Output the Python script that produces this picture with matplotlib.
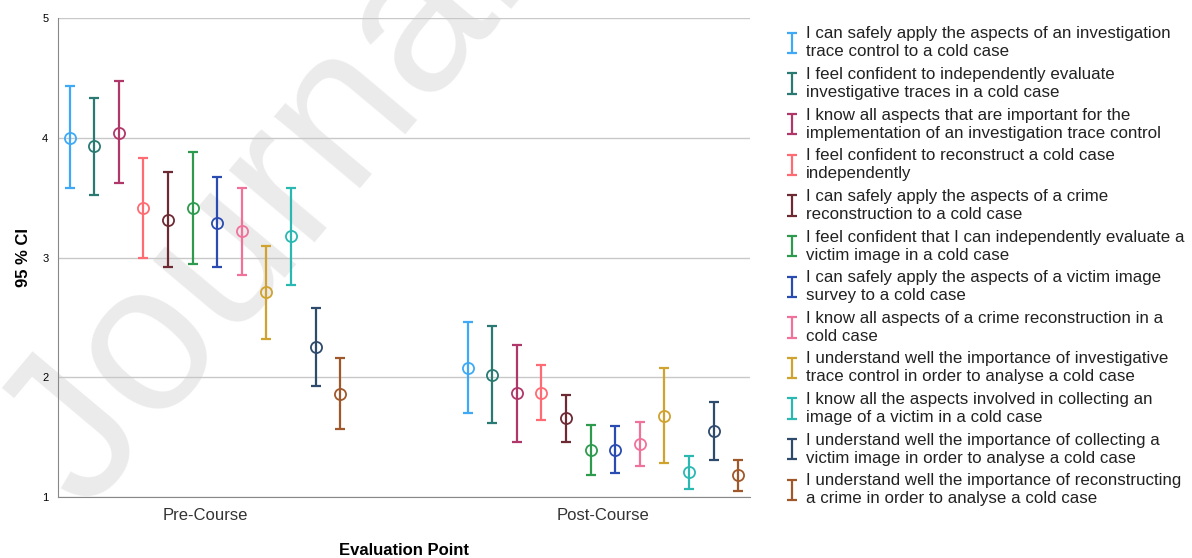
import numpy as np
import matplotlib.pyplot as plt
from matplotlib.legend_handler import HandlerErrorbar

plt.rcParams['font.family'] = ['Liberation Sans', 'DejaVu Sans']

points = ['Pre-Course', 'Post-Course']
items = [
    'I can safely apply the aspects of an investigation\ntrace control to a cold case',
    'I feel confident to independently evaluate\ninvestigative traces in a cold case',
    'I know all aspects that are important for the\nimplementation of an investigation trace control',
    'I feel confident to reconstruct a cold case\nindependently',
    'I can safely apply the aspects of a crime\nreconstruction to a cold case',
    'I feel confident that I can independently evaluate a\nvictim image in a cold case',
    'I can safely apply the aspects of a victim image\nsurvey to a cold case',
    'I know all aspects of a crime reconstruction in a\ncold case',
    'I understand well the importance of investigative\ntrace control in order to analyse a cold case',
    'I know all the aspects involved in collecting an\nimage of a victim in a cold case',
    'I understand well the importance of collecting a\nvictim image in order to analyse a cold case',
    'I understand well the importance of reconstructing\na crime in order to analyse a cold case',
]
colors = ['#3fa9f5', '#2a7a74', '#b0376a', '#ff6b72', '#6e2a33', '#2e9a4e',
          '#2a4cb0', '#f0729a', '#d0a22e', '#2cb8b2', '#2e4a6c', '#a0582a']

# means and 95% CI bounds, pre-course then post-course
mean_pre = [4.00, 3.93, 4.04, 3.41, 3.31, 3.41, 3.29, 3.22, 2.71, 3.18, 2.25, 1.86]
low_pre  = [3.58, 3.52, 3.62, 3.00, 2.92, 2.95, 2.92, 2.85, 2.32, 2.77, 1.93, 1.57]
high_pre = [4.43, 4.33, 4.47, 3.83, 3.71, 3.88, 3.67, 3.58, 3.10, 3.58, 2.58, 2.16]
mean_post = [2.08, 2.02, 1.87, 1.87, 1.66, 1.39, 1.39, 1.44, 1.68, 1.21, 1.55, 1.18]
low_post  = [1.70, 1.62, 1.46, 1.64, 1.46, 1.18, 1.20, 1.26, 1.28, 1.07, 1.31, 1.05]
high_post = [2.46, 2.43, 2.27, 2.10, 1.85, 1.60, 1.59, 1.63, 2.08, 1.34, 1.79, 1.31]

fig = plt.figure(figsize=(11.92, 5.58), dpi=100)
ax = fig.add_axes([0.0487, 0.1093, 0.5803, 0.8584])
ax.set_facecolor('none')

# watermark
fig.text(0.073, 0.08, 'Journal Pre-proof', fontsize=152, color='#ebebeb',
         rotation=50, rotation_mode='anchor', ha='left', va='baseline', zorder=-5)

n = len(items)
step = 0.0618
offsets = (np.arange(n) - (n - 1) / 2) * step
handles = []
for i in range(n):
    xs = np.arange(len(points)) + offsets[i]
    m = np.array([mean_pre[i], mean_post[i]])
    lo = np.array([low_pre[i], low_post[i]])
    hi = np.array([high_pre[i], high_post[i]])
    eb = ax.errorbar(xs, m, yerr=[m - lo, hi - m], fmt='none', ecolor=colors[i],
                     elinewidth=1.6, capsize=3.5, capthick=1.6, label=items[i], zorder=3)
    ax.plot(xs, m, 'o', mfc='none', mec=colors[i], ms=8, mew=1.3, zorder=4)
    handles.append(eb)

ax.set_xlim(-0.369, 1.369)
ax.set_ylim(1, 5)
ax.set_yticks([1, 2, 3, 4, 5])
ax.set_xticks([0, 1])
ax.set_xticklabels(points, fontsize=12, color='#333333')
ax.tick_params(axis='both', length=0)
ax.tick_params(axis='y', labelsize=8, pad=7)
ax.tick_params(axis='x', pad=8)
ax.grid(axis='y', color='#c8c8c8', linewidth=1)
ax.set_axisbelow(True)
for s in ['top', 'right']:
    ax.spines[s].set_visible(False)
for s in ['left', 'bottom']:
    ax.spines[s].set_color('#888888')

ax.set_xlabel('Evaluation Point', fontsize=12, fontweight='bold', labelpad=14)
ax.set_ylabel('95 % CI', fontsize=12, fontweight='bold', labelpad=8)

leg = fig.legend(handles=handles, labels=items, loc='upper left',
                 bbox_to_anchor=(0.648, 0.98), frameon=False, fontsize=12.2,
                 labelspacing=0.45, handlelength=0.5, handletextpad=0.6,
                 handler_map={type(handles[0]): HandlerErrorbar(xerr_size=0.5, yerr_size=0.6)})
for t in leg.get_texts():
    t.set_linespacing(1.25)
    t.set_color('#222222')

fig.savefig('out.png', dpi=100)
